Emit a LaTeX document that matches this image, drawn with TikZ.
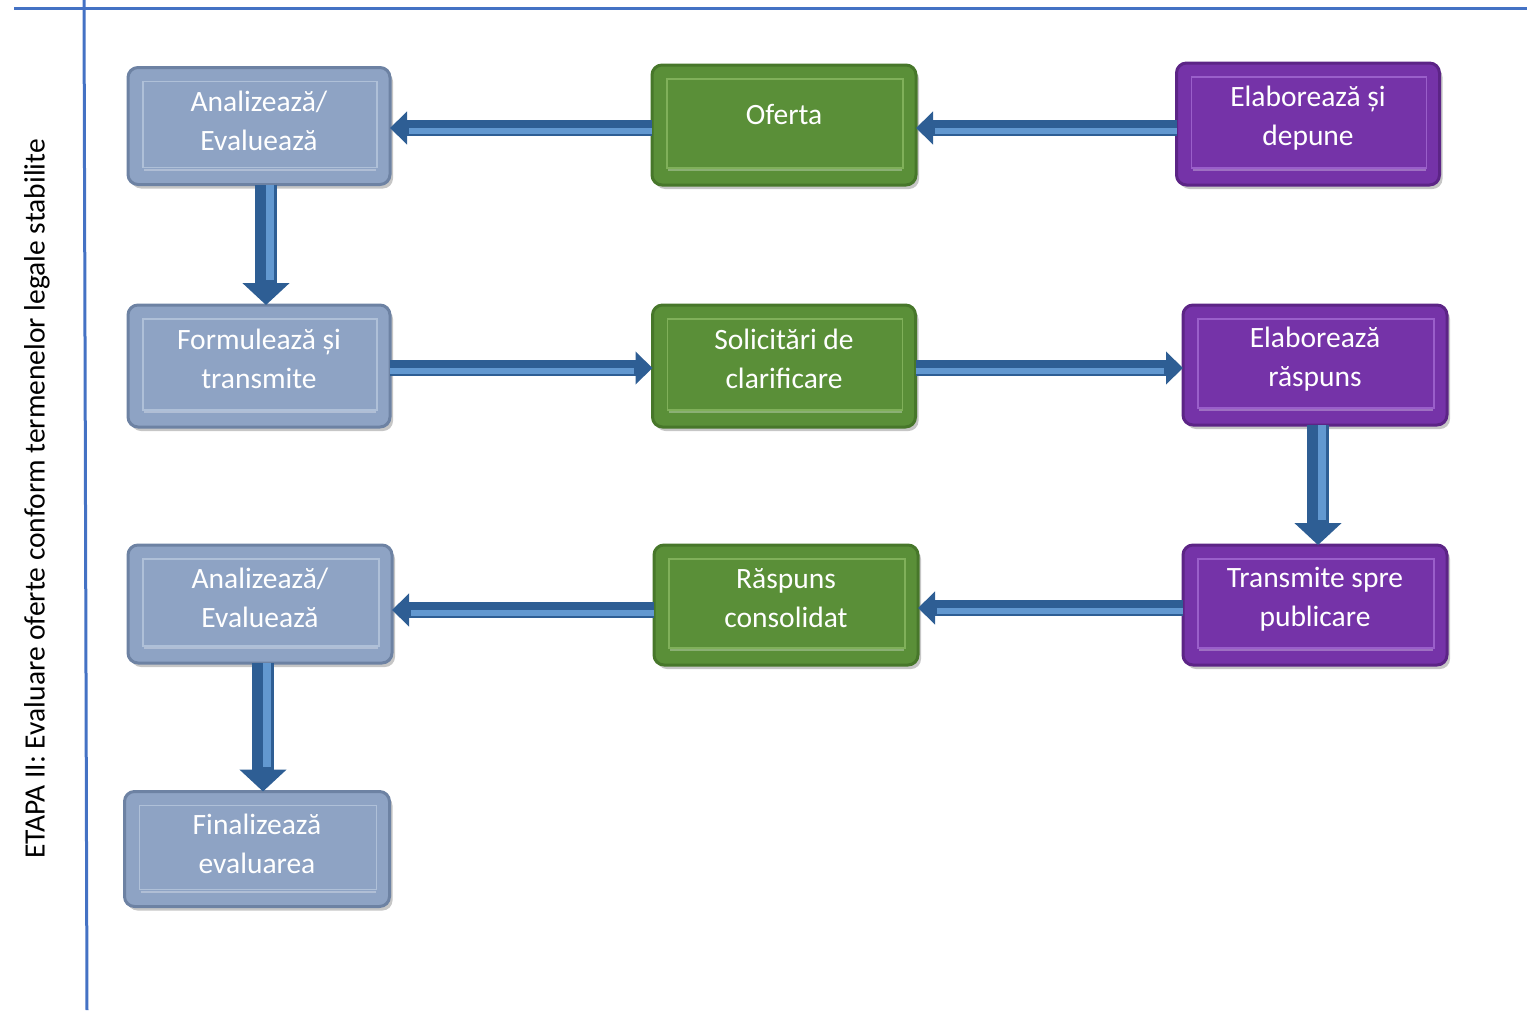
\documentclass[tikz,border=0pt]{standalone}
\usepackage{fontspec}
\setmainfont{Carlito}
\usetikzlibrary{arrows.meta,shadows,calc}
\definecolor{gfill}{HTML}{8EA3C4}
\definecolor{gedge}{HTML}{6D82A3}
\definecolor{ginner}{HTML}{AFC0D8}
\definecolor{nfill}{HTML}{5A8F38}
\definecolor{nedge}{HTML}{47772A}
\definecolor{ninner}{HTML}{80B05A}
\definecolor{pfill}{HTML}{7533A8}
\definecolor{pedge}{HTML}{5C2486}
\definecolor{pinner}{HTML}{9A5FCA}
\definecolor{adark}{HTML}{2E5E94}
\definecolor{alight}{HTML}{6298D0}
\definecolor{rulecol}{HTML}{4472C4}
\begin{document}
\begin{tikzpicture}[x=1pt,y=-1pt,
  box/.style={rounded corners=10pt, line width=3pt, outer sep=0pt, inner sep=0pt,
    drop shadow={shadow xshift=3pt, shadow yshift=-4pt, opacity=0.45}},
  gbox/.style={box, fill=gfill, draw=gedge},
  nbox/.style={box, fill=nfill, draw=nedge},
  pbox/.style={box, fill=pfill, draw=pedge},
  btext/.style={text=white, align=center, font=\fontsize{29.5}{39}\selectfont, inner sep=0pt},
  harrow/.style={draw=adark, line width=16pt, -{Triangle[width=32pt,length=17pt]}},
  varrow/.style={draw=adark, line width=22pt, -{Triangle[width=46pt,length=22pt]}},
  hlight/.style={draw=alight, line width=6pt, shorten >=19pt},
  vlight/.style={draw=alight, line width=8pt, shorten >=25pt},
]
\useasboundingbox (0,0) rectangle (1527,1012);
% frame rules
\draw[rulecol, line width=3pt] (14,8) -- (1527,8);
\draw[rulecol, line width=3pt] (84,0) -- (87,1010);
\node[rotate=90, font=\fontsize{29.5}{34}\selectfont, anchor=center] (title) at (37,499)
  {ETAPA II: Evaluare oferte conform termenelor legale stabilite};

% boxes
\node[gbox, minimum width=262pt, minimum height=117pt] (an1) at (259,126) {};
\node[nbox, minimum width=264pt, minimum height=120pt] (of) at (784,125) {};
\node[pbox, minimum width=263pt, minimum height=122pt] (ed) at (1308,124) {};
\node[gbox, minimum width=262pt, minimum height=122pt] (fo) at (259,366) {};
\node[nbox, minimum width=263pt, minimum height=122pt] (so) at (784,366) {};
\node[pbox, minimum width=264pt, minimum height=120pt] (er) at (1315,365) {};
\node[gbox, minimum width=264pt, minimum height=118pt] (an2) at (260,604) {};
\node[nbox, minimum width=264pt, minimum height=120pt] (rc) at (786,605) {};
\node[pbox, minimum width=264pt, minimum height=120pt] (tp) at (1315,605) {};
\node[gbox, minimum width=265pt, minimum height=115pt] (fi) at (257,849) {};

% inner bevel frames
\foreach \n/\c in {an1/ginner,of/ninner,ed/pinner,fo/ginner,so/ninner,er/pinner,an2/ginner,rc/ninner,tp/pinner,fi/ginner}{
  \draw[draw=\c, line width=1.5pt] ($(\n.north west)+(15,14)$) rectangle ($(\n.south east)+(-13,-17)$);
  \draw[draw=white, opacity=0.3, line width=2pt] ($(\n.south west)+(16,-15)$) -- ($(\n.south east)+(-14,-15)$);
}

% box texts
\node[btext] (an1t) at ([yshift=5pt]an1.center) {Analizează/\\Evaluează};
\node[btext] (oft) at ([yshift=11pt]of.center) {Oferta};
\node[btext] (edt) at ([yshift=6pt]ed.center) {Elaborează și\\depune};
\node[btext] (fot) at ([yshift=7pt]fo.center) {Formulează și\\transmite};
\node[btext] (sot) at ([yshift=7pt]so.center) {Solicitări de\\clarificare};
\node[btext] (ert) at ([yshift=6pt]er.center) {Elaborează\\răspuns};
\node[btext] (an2t) at ([yshift=6pt]an2.center) {Analizează/\\Evaluează};
\node[btext] (rct) at ([yshift=7pt]rc.center) {Răspuns\\consolidat};
\node[btext] (tpt) at ([yshift=6pt]tp.center) {Transmite spre\\publicare};
\node[btext] (fit) at ([yshift=5pt]fi.center) {Finalizează\\evaluarea};

% horizontal arrows
\draw[harrow] ([yshift=-3pt]of.west) -- ([yshift=-3pt]of.west -| an1.east);
\draw[hlight] ([yshift=-6pt]of.west) -- ([yshift=-6pt]of.west -| an1.east);
\draw[harrow] ([yshift=-4pt]ed.west) -- ([yshift=-4pt]ed.west -| of.east);
\draw[hlight] ([yshift=-7pt]ed.west) -- ([yshift=-7pt]ed.west -| of.east);
\draw[harrow] ([yshift=-2pt]fo.east) -- ([yshift=-2pt]fo.east -| so.west);
\draw[hlight] ([yshift=-5pt]fo.east) -- ([yshift=-5pt]fo.east -| so.west);
\draw[harrow] ([yshift=-2pt]so.east) -- ([yshift=-2pt]so.east -| er.west);
\draw[hlight] ([yshift=-5pt]so.east) -- ([yshift=-5pt]so.east -| er.west);
\draw[harrow] ([yshift=-3pt]tp.west) -- ([yshift=-3pt]tp.west -| rc.east);
\draw[hlight] ([yshift=-6pt]tp.west) -- ([yshift=-6pt]tp.west -| rc.east);
\draw[harrow] ([yshift=-5pt]rc.west) -- ([yshift=-5pt]rc.west -| an2.east);
\draw[hlight] ([yshift=-8pt]rc.west) -- ([yshift=-8pt]rc.west -| an2.east);

% vertical arrows
\draw[varrow] ([xshift=7pt]an1.south) -- ([xshift=7pt]an1.south |- fo.north);
\draw[vlight] ([xshift=11pt]an1.south) -- ([xshift=11pt]an1.south |- fo.north);
\draw[varrow] ([xshift=3pt]er.south) -- ([xshift=3pt]er.south |- tp.north);
\draw[vlight] ([xshift=7pt]er.south) -- ([xshift=7pt]er.south |- tp.north);
\draw[varrow] ([xshift=3pt]an2.south) -- ([xshift=3pt]an2.south |- fi.north);
\draw[vlight] ([xshift=7pt]an2.south) -- ([xshift=7pt]an2.south |- fi.north);
\end{tikzpicture}
\end{document}
